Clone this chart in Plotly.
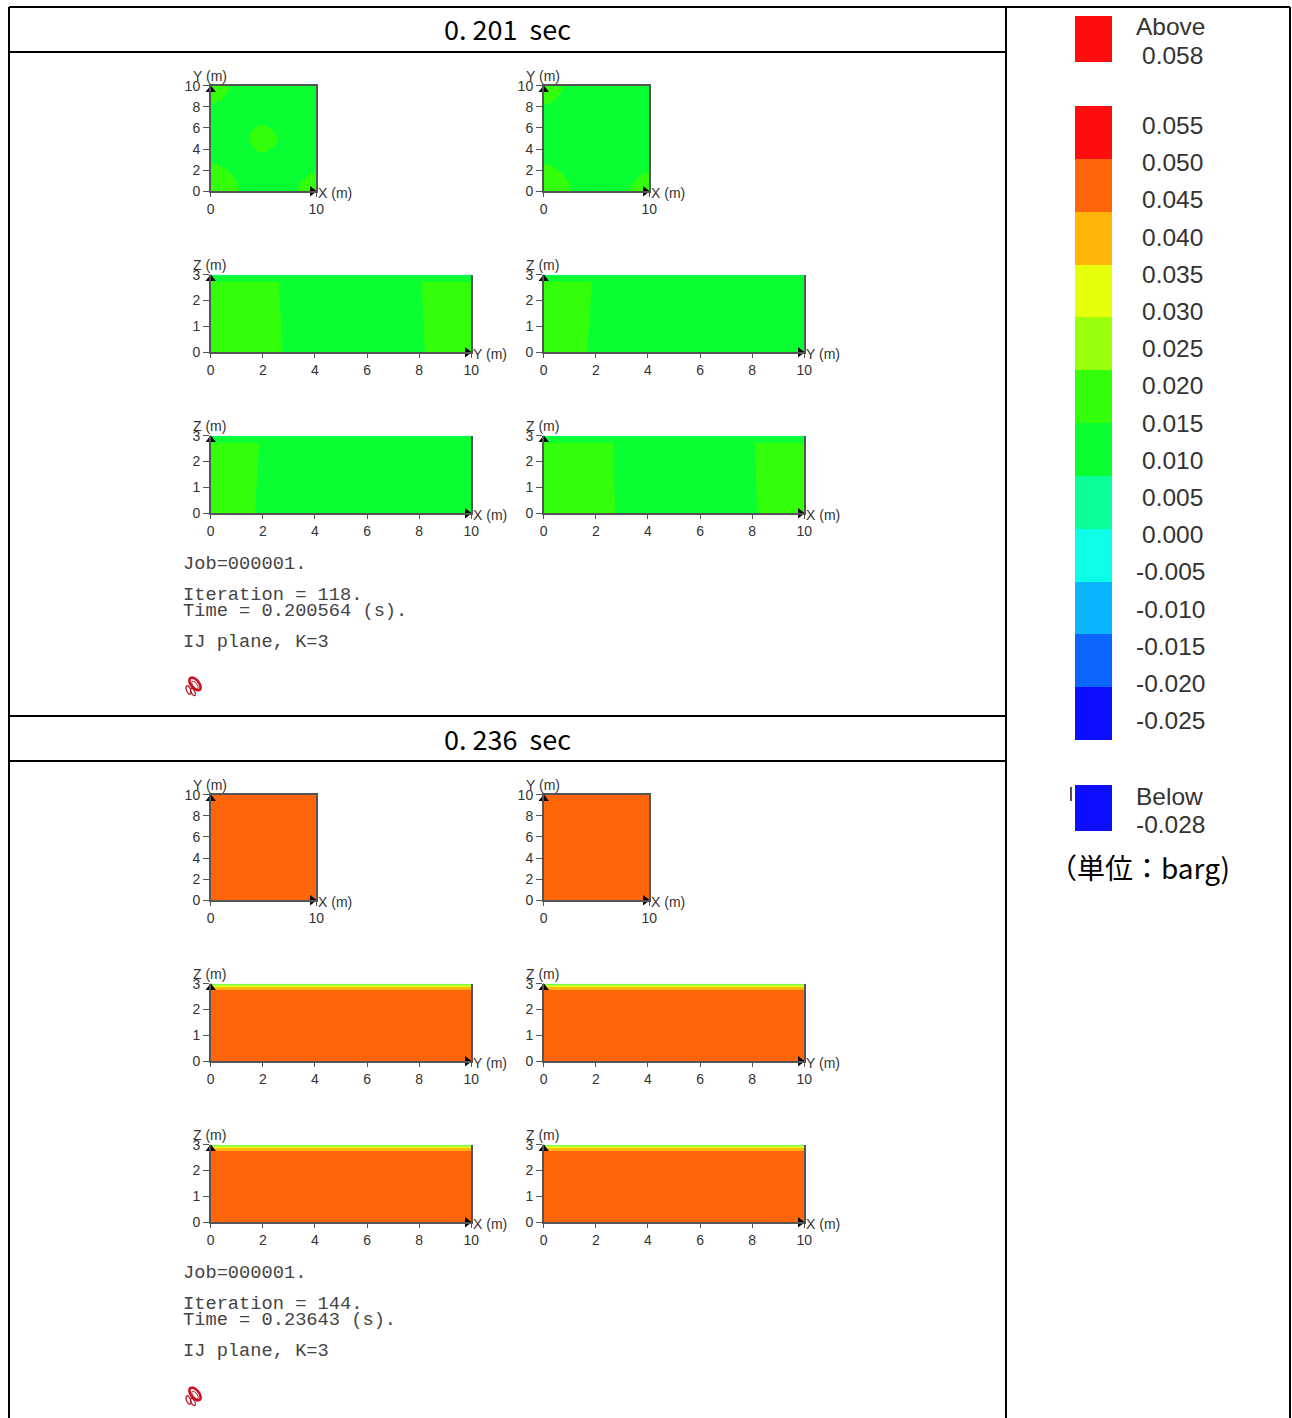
import math
import plotly.graph_objects as go

W, H = 1292, 1418

# ---------- data ----------
LEGEND_COLORS = ["#FF0D0D", "#FF660A", "#FFB50A", "#E6FF0A", "#99FF0A", "#33FF0A",
                 "#0AFF33", "#0AFF99", "#0AFFE6", "#0AB5FF", "#0A66FF", "#0D0DFF"]
LEGEND_LABELS = ["0.055", "0.050", "0.045", "0.040", "0.035", "0.030", "0.025", "0.020", "0.015",
                 "0.010", "0.005", "0.000", "-0.005", "-0.010", "-0.015", "-0.020", "-0.025"]
TITLES = ["0. 201\u00a0\u00a0sec", "0. 236\u00a0\u00a0sec"]
INFO_TOP = ["Job=000001.", "Iteration = 118.", "Time = 0.200564 (s).", "IJ plane, K=3"]
INFO_BOTTOM = ["Job=000001.", "Iteration = 144.", "Time = 0.23643 (s).", "IJ plane, K=3"]

BASE_TOP = "#0AFF33"
PATCH = "#33FF0A"
STRIP = "#0AFF66"
ORANGE = "#FF660A"

ARC_TL_A = ([0, 0.5, 1.0, 1.4, 1.65, 1.7, 0], [8.3, 8.4, 8.65, 9.05, 9.55, 10, 10])
ARC_BL_A = ([0, 2.7, 2.55, 2.15, 1.6, 0.9, 0.4, 0], [0, 0, 0.75, 1.45, 2.0, 2.4, 2.6, 2.7])
ARC_BR_A = ([8.2, 8.35, 8.7, 9.2, 9.7, 10, 10], [0, 0.45, 1.0, 1.45, 1.7, 1.75, 0])
BLOB_X = [3.65, 3.85, 4.2, 4.8, 5.3, 5.8, 6.3, 6.35, 6.0, 5.5, 4.9, 4.3, 3.85]
BLOB_Y = [5.1, 5.7, 6.05, 6.3, 6.15, 5.85, 5.2, 4.85, 4.35, 3.85, 3.65, 3.85, 4.4]
ARC_TL_B = ([0, 0.5, 1.0, 1.4, 1.7, 1.75, 0], [8.2, 8.3, 8.6, 9.0, 9.5, 10, 10])
ARC_BL_B = ([0, 2.55, 2.4, 2.0, 1.5, 0.9, 0.4, 0], [0, 0, 0.75, 1.4, 1.9, 2.3, 2.5, 2.6])
ARC_BR_B = ([8.1, 8.3, 8.7, 9.2, 9.7, 10, 10], [0, 0.5, 1.05, 1.5, 1.75, 1.8, 0])

SEC_YZ_A = [([0, 2.75, 2.62, 0], [0, 0, 2.73, 2.73]), ([8.22, 10, 10, 8.1], [0, 0, 2.73, 2.73])]
SEC_YZ_B = [([0, 1.67, 1.85, 0], [0, 0, 2.73, 2.73])]
SEC_XZ_A = [([0, 1.7, 1.85, 0], [0, 0, 2.73, 2.73])]
SEC_XZ_B = [([0, 2.75, 2.65, 0], [0, 0, 2.73, 2.73]), ([8.2, 10, 10, 8.1], [0, 0, 2.73, 2.73])]

# z limits and colours of the layers near the ceiling, later state
LAYER_Z = [0, 2.76, 2.87, 2.92, 2.97, 3.0]
LAYER_C = [ORANGE, "#FFB50A", "#E6FF0A", "#99FF0A", "#33FF0A"]

# ---------- helpers ----------
def fx(p): return p / W
def fy(p): return 1 - p / H

fig = go.Figure()
annotations, shapes = [], []
axn = 0
TXT = "#333333"
AXC = "#555555"
LAB = "Liberation Sans"
INSET = 0.75

def text(x, y, s, size=14, color=TXT, family=LAB, anchor="center"):
    annotations.append(dict(x=fx(x), y=fy(y), xref="paper", yref="paper", text=s, showarrow=False,
                            xanchor=anchor, yanchor="middle", align="left",
                            font=dict(size=size, color=color, family=family)))

def panel(px0, py0, pw, ph, xmax, ymax, xticks, yticks, xname, yname, polys, full_top):
    global axn
    axn += 1
    s = "" if axn == 1 else str(axn)
    xa, ya = "x" + s, "y" + s
    for xs, ys, c in polys:
        fig.add_trace(go.Scatter(x=xs, y=ys, mode="lines", fill="toself", fillcolor=c,
                                 line=dict(width=0, color=c), xaxis=xa, yaxis=ya,
                                 showlegend=False, hoverinfo="skip"))
    fig.add_trace(go.Scatter(x=[xmax * (1 - 4 / pw)], y=[0], mode="markers", xaxis=xa, yaxis=ya,
                             marker=dict(symbol="triangle-right", size=9, color="black"),
                             cliponaxis=False, showlegend=False, hoverinfo="skip"))
    fig.add_trace(go.Scatter(x=[0], y=[ymax * (1 - 4 / ph)], mode="markers", xaxis=xa, yaxis=ya,
                             marker=dict(symbol="triangle-up", size=9, color="black"),
                             cliponaxis=False, showlegend=False, hoverinfo="skip"))
    common = dict(showgrid=False, zeroline=False, showline=True, linecolor=AXC, linewidth=1.5,
                  ticks="outside", tickcolor=AXC, tickwidth=1,
                  tickfont=dict(size=14, color=TXT, family=LAB), fixedrange=True)
    fig.layout["xaxis" + s] = dict(domain=[fx(px0 + INSET), fx(px0 + pw - INSET)], range=[0, xmax], anchor=ya,
                                   tickvals=xticks, mirror=full_top, ticklen=4, **common)
    fig.layout["yaxis" + s] = dict(domain=[fy(py0 + ph - INSET), fy(py0 + INSET)], range=[0, ymax], anchor=xa,
                                   tickvals=yticks, mirror=True, ticklen=6, **common)
    text(px0 + pw - 1, py0 + ph + 1, xname, anchor="left")
    text(px0 - 19, py0 - 9, yname, anchor="left")

def section(regions):
    return [([0, 10, 10, 0], [0, 0, 3, 3], BASE_TOP),
            ([0, 10, 10, 0], [2.95, 2.95, 3, 3], STRIP)] + [(x, y, PATCH) for x, y in regions]

def square(regions):
    return [([0, 10, 10, 0], [0, 0, 10, 10], BASE_TOP)] + [(x, y, PATCH) for x, y in regions]

def layers():
    out = []
    for i, c in enumerate(LAYER_C):
        z0, z1 = LAYER_Z[i], LAYER_Z[i + 1]
        out.append(([0, 10, 10, 0], [z0, z0, z1, z1], c))
    return out

X_FULL = [0, 2, 4, 6, 8, 10]
SQ = [0, 2, 4, 6, 8, 10]
Z_T = [0, 1, 2, 3]
COLS = [210, 543]

def block(dy, sq_polys, yz_polys, xz_polys):
    for c, px0 in enumerate(COLS):
        panel(px0, 85 + dy, 107, 107, 10, 10, [0, 10], SQ, "X (m)", "Y (m)", sq_polys[c], True)
        panel(px0, 274 + dy, 262, 79, 10, 3, X_FULL, Z_T, "Y (m)", "Z (m)", yz_polys[c], False)
        panel(px0, 435 + dy, 262, 79, 10, 3, X_FULL, Z_T, "X (m)", "Z (m)", xz_polys[c], False)

block(0,
      [square([ARC_TL_A, ARC_BL_A, ARC_BR_A, (BLOB_X, BLOB_Y)]), square([ARC_TL_B, ARC_BL_B, ARC_BR_B])],
      [section(SEC_YZ_A), section(SEC_YZ_B)],
      [section(SEC_XZ_A), section(SEC_XZ_B)])
orange_sq = [([0, 10, 10, 0], [0, 0, 10, 10], ORANGE)]
block(709, [orange_sq, orange_sq], [layers(), layers()], [layers(), layers()])

# colour legend
axn += 1
s = str(axn)
fig.add_trace(go.Heatmap(z=[[i] for i in range(len(LEGEND_COLORS))], x=[0], y=list(range(len(LEGEND_COLORS))),
                         xaxis="x" + s, yaxis="y" + s, showscale=False, zmin=0, zmax=len(LEGEND_COLORS) - 1,
                         colorscale=[[i / (len(LEGEND_COLORS) - 1), c] for i, c in enumerate(LEGEND_COLORS)],
                         hoverinfo="skip"))
fig.layout["xaxis" + s] = dict(domain=[fx(1075), fx(1112)], visible=False, anchor="y" + s, fixedrange=True)
fig.layout["yaxis" + s] = dict(domain=[fy(740), fy(106)], visible=False, autorange="reversed",
                               anchor="x" + s, fixedrange=True)

for i, lab in enumerate(LEGEND_LABELS):
    text(1172.5 if not lab.startswith("-") else 1170.5, 125.5 + i * 37.2, lab, size=24.5, family=LAB)
text(1170, 27, "Above", size=24.5); text(1172.5, 55, "0.058", size=24.5)
text(1169, 796, "Below", size=24.5); text(1170.5, 824, "-0.028", size=24.5)
text(1139, 867, "（単位：barg)", size=28, color="black", family="Noto Sans CJK JP")

for x0, y0, y1, c in [(1075, 16, 62, LEGEND_COLORS[0]), (1075, 785, 831, LEGEND_COLORS[-1])]:
    shapes.append(dict(type="rect", xref="paper", yref="paper", x0=fx(x0), x1=fx(1112), y0=fy(y1), y1=fy(y0),
                       fillcolor=c, line=dict(width=0)))

# table frame
LINE = dict(color="black", width=2)
def seg(x0, y0, x1, y1):
    shapes.append(dict(type="line", xref="paper", yref="paper", x0=fx(x0), x1=fx(x1), y0=fy(y0), y1=fy(y1),
                       line=LINE, layer="above"))
seg(9, 7, 1290, 7)
seg(9, 7, 9, H); seg(1006, 7, 1006, H); seg(1290, 7, 1290, H)
for y in (52, 716, 761):
    seg(9, y, 1006, y)

text(507, 29, TITLES[0], size=27, color="black", family="Noto Sans CJK JP")
text(507, 738, TITLES[1], size=27, color="black", family="Noto Sans CJK JP")

# run information text
for lines, dy in ((INFO_TOP, 0), (INFO_BOTTOM, 709)):
    for line, y in zip(lines, (564, 595, 611, 642)):
        text(180.5, y + dy, line, size=18.7, color="#444444", family="Liberation Mono", anchor="left")

# small logo
def loop(cx, cy, a, b, rot):
    pts = []
    for k in range(25):
        t = 2 * math.pi * k / 24
        u, v = a * math.cos(t), b * math.sin(t)
        x = cx + u * math.cos(rot) - v * math.sin(rot)
        y = cy + u * math.sin(rot) + v * math.cos(rot)
        pts.append(f"{fx(x):.5f},{fy(y):.5f}")
    return "M" + " L".join(pts) + "Z"

for dy in (0, 710):
    for cx, cy, a, b, rot, w, col in [(195, 684, 7.5, 4, 0.9, 2.6, "#D01020"),
                                      (195, 685, 4.5, 2.0, 0.9, 1.0, "#A01020"),
                                      (188.5, 690, 4.5, 2, 1.2, 1.3, "#B01828"),
                                      (193, 692, 4, 1.8, 1.1, 1.2, "#B01828")]:
        shapes.append(dict(type="path", xref="paper", yref="paper", path=loop(cx, cy + dy, a, b, rot),
                           line=dict(color=col, width=w), layer="above"))
shapes.append(dict(type="line", xref="paper", yref="paper", x0=fx(1071), x1=fx(1071), y0=fy(787), y1=fy(801),
                   line=dict(color="#301010", width=1.5)))

fig.update_layout(width=W, height=H, margin=dict(l=0, r=0, t=0, b=0, pad=0, autoexpand=False),
                  paper_bgcolor="white", plot_bgcolor="white", showlegend=False,
                  annotations=annotations, shapes=shapes)
fig.write_html("out.html", config=dict(displayModeBar=False),
               post_script="document.body.style.margin='0px';document.documentElement.style.overflow='hidden';")
